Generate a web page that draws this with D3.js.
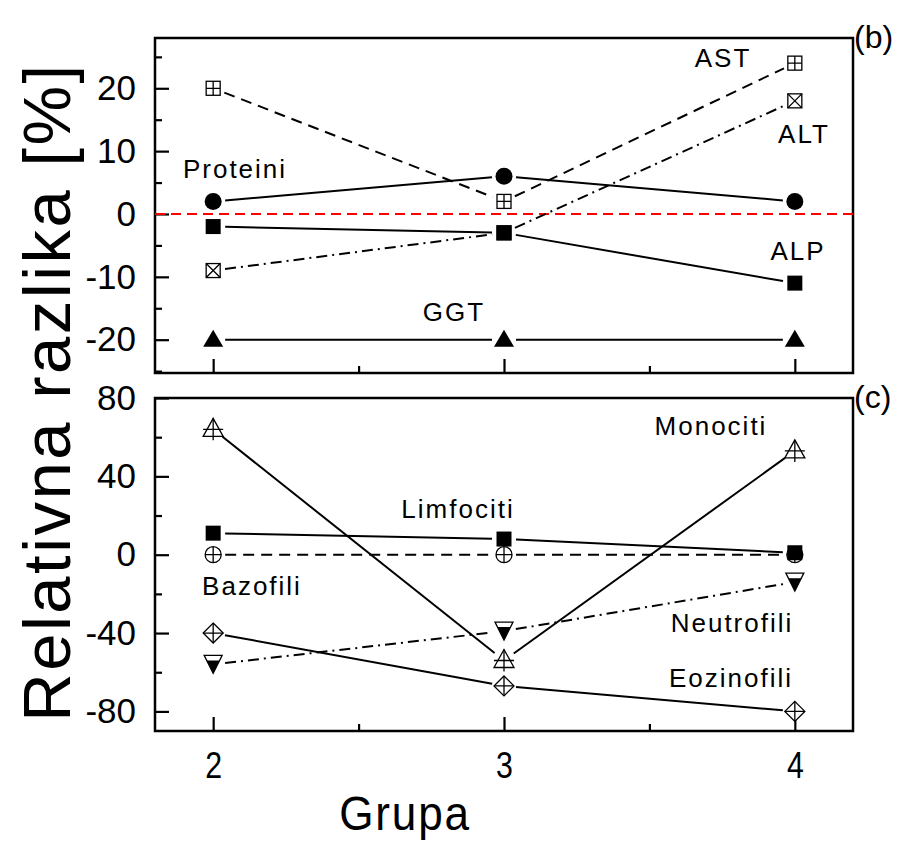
<!DOCTYPE html>
<html>
<head>
<meta charset="utf-8">
<script src="https://cdn.jsdelivr.net/npm/d3@7"></script>
<style>
  body { margin: 0; background: #fff; }
  svg { font-family: "Liberation Sans", Arial, sans-serif; }
</style>
</head>
<body>
<svg id="chart" width="902" height="846"></svg>
<script>
// grupa (x)
var groups = [2, 3, 4];
var xTicksMajor = [2, 3, 4];
var xTicksMinor = [2.5, 3.5];

// panel (b) - biochemija
var proteini = [2, 6, 2];
var alp = [-2, -3, -11];
var ast = [20, 2, 24];
var alt = [-9, -3, 18];
var ggt = [-20, -20, -20];
var bMajor = [-20, -10, 0, 10, 20];
var bMinor = [-25, -15, -5, 5, 15, 25];

// panel (c) - leukociti
var monociti = [64, -54, 53];
var limfociti = [11, 8, 1];
var bazofili = [0, 0, 0];
var neutrofili = [-56, -39, -14];
var eozinofili = [-40, -67, -80];
var cMajor = [-80, -40, 0, 40, 80];
var cMinor = [-60, -20, 20, 60];

var left = 155, right = 853;
var svg = d3.select("#chart");

var x = d3.scaleLinear().domain([1.8, 4.2]).range([left, right]);
var yB = d3.scaleLinear().domain([-25.3, 28]).range([373, 38]);
var yC = d3.scaleLinear().domain([-90, 80]).range([731, 398]);

// plain hyphen like the original, not unicode minus
var fmt = function(d) { return String(d); };

function drawFrame(y) {
    var r = y.range();
    svg.append("rect")
        .attr("x", left).attr("y", r[1])
        .attr("width", right - left).attr("height", r[0] - r[1])
        .attr("fill", "none").attr("stroke", "#000").attr("stroke-width", 2.5);
}

function drawAxes(y, major, minor, showX) {
    var r = y.range();
    var gl = svg.append("g").attr("transform", "translate(" + left + ",0)")
        .call(d3.axisLeft(y).tickValues(major).tickSizeInner(-14).tickSizeOuter(0)
            .tickPadding(19).tickFormat(fmt));
    svg.append("g").attr("transform", "translate(" + left + ",0)")
        .call(d3.axisLeft(y).tickValues(minor).tickSizeInner(-7).tickSizeOuter(0)
            .tickFormat(""));

    var gb = svg.append("g").attr("transform", "translate(0," + r[0] + ")")
        .call(d3.axisBottom(x).tickValues(xTicksMajor).tickSizeInner(-14).tickSizeOuter(0)
            .tickPadding(21).tickFormat(showX ? fmt : ""));
    svg.append("g").attr("transform", "translate(0," + r[0] + ")")
        .call(d3.axisBottom(x).tickValues(xTicksMinor).tickSizeInner(-7).tickSizeOuter(0)
            .tickFormat(""));

    svg.selectAll(".domain").remove();
    svg.selectAll(".tick line").attr("stroke", "#000").attr("stroke-width", 2.2);
    gl.selectAll("text").attr("font-size", 35).attr("fill", "#000")
        .attr("font-family", "Liberation Sans, Arial, sans-serif");
    gb.selectAll("text").attr("font-size", 37).attr("fill", "#000")
        .attr("font-family", "Liberation Sans, Arial, sans-serif")
        .attr("transform", "scale(0.82,1)");
}

function marker(type, cx, cy) {
    var m = svg.append("g").attr("transform", "translate(" + cx + "," + cy + ")");
    var sw = 1.3;
    if (type == "circle") {
        m.append("circle").attr("r", 8.5).attr("fill", "#000");
    } else if (type == "square") {
        m.append("rect").attr("x", -7.5).attr("y", -7.5).attr("width", 15).attr("height", 15).attr("fill", "#000");
    } else if (type == "squarePlus" || type == "squareX") {
        m.append("rect").attr("x", -7).attr("y", -7).attr("width", 14).attr("height", 14)
            .attr("fill", "#fff").attr("stroke", "#000").attr("stroke-width", sw);
        var p = type == "squarePlus" ? "M-7,0H7M0,-7V7" : "M-7,-7L7,7M7,-7L-7,7";
        m.append("path").attr("d", p).attr("stroke", "#000").attr("stroke-width", sw);
    } else if (type == "triangle") {
        m.append("path").attr("d", "M0,-10L10,7L-10,7Z").attr("fill", "#000");
    } else if (type == "trianglePlus") {
        m.append("path").attr("d", "M0,-11L10,7L-10,7Z")
            .attr("fill", "#fff").attr("stroke", "#000").attr("stroke-width", sw);
        m.append("path").attr("d", "M-10,0H10M0,-11V11").attr("stroke", "#000").attr("stroke-width", sw);
    } else if (type == "diamondPlus") {
        m.append("path").attr("d", "M0,-10L10,0L0,10L-10,0Z")
            .attr("fill", "#fff").attr("stroke", "#000").attr("stroke-width", sw);
        m.append("path").attr("d", "M-10,0H10M0,-10V10").attr("stroke", "#000").attr("stroke-width", sw);
    } else if (type == "circlePlus") {
        m.append("circle").attr("r", 8).attr("fill", "#fff").attr("stroke", "#000").attr("stroke-width", sw);
        m.append("path").attr("d", "M-8,0H8M0,-8V8").attr("stroke", "#000").attr("stroke-width", sw);
    } else if (type == "triDownHalf") {
        m.append("path").attr("d", "M-9,-9L9,-9L0,9Z")
            .attr("fill", "#fff").attr("stroke", "#000").attr("stroke-width", sw);
        m.append("path").attr("d", "M-6.5,-4L6.5,-4L0,9Z").attr("fill", "#000");
    }
}

function series(vals, y, type, dash) {
    var pts = vals.map(function(v, i) { return [x(groups[i]), y(v)]; });
    var gap = 12;
    for (var i = 0; i < pts.length - 1; i++) {
        var a = pts[i], b = pts[i + 1];
        var dx = b[0] - a[0], dy = b[1] - a[1];
        var len = Math.sqrt(dx * dx + dy * dy);
        var ux = dx / len, uy = dy / len;
        svg.append("line")
            .attr("x1", a[0] + ux * gap).attr("y1", a[1] + uy * gap)
            .attr("x2", b[0] - ux * gap).attr("y2", b[1] - uy * gap)
            .attr("stroke", "#000").attr("stroke-width", 2)
            .attr("stroke-dasharray", dash || null);
    }
    pts.forEach(function(p) { marker(type, p[0], p[1]); });
}

function label(txt, cx, by) {
    svg.append("text").attr("x", cx).attr("y", by)
        .attr("text-anchor", "middle").attr("font-size", 26)
        .attr("letter-spacing", 2).attr("fill", "#000").text(txt);
}

var dashed = "11,7", dashDot = "11,5,2,5";

// panel (b)
drawFrame(yB);
drawAxes(yB, bMajor, bMinor, false);
svg.append("line").attr("x1", left).attr("x2", right)
    .attr("y1", yB(0)).attr("y2", yB(0))
    .attr("stroke", "#ff0000").attr("stroke-width", 2).attr("stroke-dasharray", "10,6");

series(ast, yB, "squarePlus", dashed);
series(alt, yB, "squareX", dashDot);
series(proteini, yB, "circle");
series(alp, yB, "square");
series(ggt, yB, "triangle");

label("Proteini", 235, 178);
label("AST", 723, 67);
label("ALT", 804, 143);
label("ALP", 798, 260);
label("GGT", 454, 321);

// panel (c)
drawFrame(yC);
drawAxes(yC, cMajor, cMinor, true);

series(bazofili, yC, "circlePlus", dashed);
series(neutrofili, yC, "triDownHalf", dashDot);
series(eozinofili, yC, "diamondPlus");
series(monociti, yC, "trianglePlus");
series(limfociti, yC, "square");

label("Monociti", 711, 435);
label("Limfociti", 458, 518);
label("Bazofili", 252, 595);
label("Neutrofili", 732, 632);
label("Eozinofili", 731, 687);

svg.append("text").attr("x", 854).attr("y", 48).attr("font-size", 32).text("(b)");
svg.append("text").attr("x", 854).attr("y", 408).attr("font-size", 32).text("(c)");

// axis titles
svg.append("text")
    .attr("transform", "translate(70,392) rotate(-90)")
    .attr("text-anchor", "middle").attr("font-size", 67).attr("letter-spacing", 2.5)
    .text("Relativna razlika [%]");
svg.append("text")
    .attr("transform", "translate(405,830) scale(0.9,1)")
    .attr("text-anchor", "middle").attr("font-size", 49).attr("letter-spacing", 2)
    .text("Grupa");
</script>
</body>
</html>
